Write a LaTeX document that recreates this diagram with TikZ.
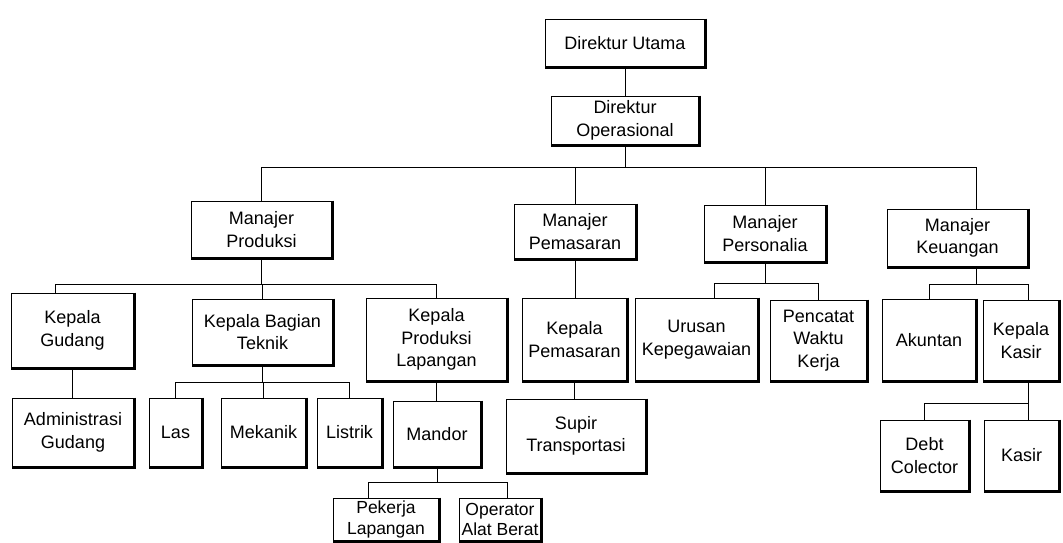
\documentclass[tikz,border=0pt]{standalone}
\usepackage{fontspec}
\setmainfont{Liberation Sans}
% name, centre x, centre y, width, height, text
\newcommand\orgnode[7][]{\node[box,minimum width=#5pt,minimum height=#6pt,#1] (#2) at (#3,#4) {#7};}
\begin{document}
\begin{tikzpicture}[x=1pt,y=-1pt,
  box/.style={draw, line width=0.9pt, inner sep=0pt, align=center,
    font=\fontsize{18}{22.5}\selectfont},
  tight/.style={font=\fontsize{17.5}{20.5}\selectfont},
  link/.style={line width=0.8pt},
  edge/.style={line width=2.4pt}]
\fill[white] (0,0) rectangle (1063,543);
\useasboundingbox (0,0) rectangle (1063,543);

% top management
\orgnode{du}{625}{43}{160}{48}{Direktur Utama}
\orgnode{do}{625}{120.5}{148}{49}{Direktur\\Operasional}

% managers
\orgnode{mp}{261.5}{229.5}{141}{57}{Manajer\\Produksi}
\orgnode{mpem}{575}{231.5}{122}{55}{Manajer\\Pemasaran}
\orgnode{mper}{765}{233.5}{122}{57}{Manajer\\Personalia}
\orgnode{mk}{957.5}{238}{141}{58}{Manajer\\Keuangan}

% heads of section
\orgnode{kg}{72.5}{330.5}{123}{75}{Kepala\\Gudang}
\orgnode{kbt}{262.5}{332}{141}{66}{Kepala Bagian\\Teknik}
\orgnode{kpl}{436.5}{339.5}{141}{83}{Kepala\\Produksi\\Lapangan}
\orgnode{kpem}{574.5}{339.5}{105}{83}{Kepala\\Pemasaran}
\orgnode{uk}{696.5}{339.5}{123}{83}{Urusan\\Kepegawaian}
\orgnode{pwk}{818.5}{340.5}{97}{81}{Pencatat\\Waktu\\Kerja}
\orgnode{ak}{929}{340}{94}{82}{Akuntan}
\orgnode{kk}{1021}{340.5}{76}{81}{Kepala\\Kasir}

% staff
\orgnode{ag}{73}{432.5}{122}{69}{Administrasi\\Gudang}
\orgnode{las}{175.5}{432.5}{53}{69}{Las}
\orgnode{mek}{263.5}{432.5}{85}{69}{Mekanik}
\orgnode{lis}{349.5}{432.5}{65}{69}{Listrik}
\orgnode{man}{437}{434}{88}{66}{Mandor}
\orgnode{sup}{576}{436}{140}{74}{Supir\\Transportasi}
\orgnode{dc}{924.5}{455.5}{89}{71}{Debt\\Colector}
\orgnode{kas}{1021.5}{455.5}{75}{71}{Kasir}
\orgnode[tight]{pl}{386}{519.5}{106}{43}{Pekerja\\Lapangan}
\orgnode[tight]{oab}{500}{519.5}{82}{43}{Operator\\Alat Berat}

% heavy right and bottom borders
\foreach \n in {du,do,mp,mpem,mper,mk,kg,kbt,kpl,kpem,uk,pwk,ak,kk,
                ag,las,mek,lis,man,sup,dc,kas,pl,oab}
  \draw[edge] (\n.north east) -- (\n.south east) -- (\n.south west);

% connectors
\draw[link] (du.south) -- (do.north);
\coordinate (b1) at (625,167);
\draw[link] (do.south) -- (b1);
\draw[link] (b1) -| (mp.north);
\draw[link] (b1) -| (mpem.north);
\draw[link] (b1) -| (mper.north);
\draw[link] (b1) -| ([xshift=18.5pt]mk.north);

\coordinate (b2) at (261.5,284);
\draw[link] (mp.south) -- (b2);
\draw[link] (b2) -| ([xshift=-17.5pt]kg.north);
\draw[link] (b2) -| (kbt.north);
\draw[link] (b2) -| (kpl.north);

\draw[link] (kg.south) -- (kg.south |- ag.north);

\coordinate (b3) at (262.5,382);
\draw[link] (kbt.south) -- (b3);
\draw[link] (b3) -| (las.north);
\draw[link] (b3) -| (mek.north);
\draw[link] (b3) -| (lis.north);

\draw[link] (kpl.south) -- (kpl.south |- man.north);
\coordinate (b4) at (437,482);
\draw[link] (man.south) -- (b4);
\draw[link] (b4) -| ([xshift=-18pt]pl.north);
\draw[link] (b4) -| ([xshift=7pt]oab.north);

\draw[link] (mpem.south) -- (mpem.south |- kpem.north);
\draw[link] (kpem.south) -- (kpem.south |- sup.north);

\coordinate (b5) at (765,283);
\draw[link] (mper.south) -- (b5);
\draw[link] (b5) -| ([xshift=17.5pt]uk.north);
\draw[link] (b5) -| (pwk.north);

\coordinate (b6) at (976,284);
\draw[link] ([xshift=18.5pt]mk.south) -- (b6);
\draw[link] (b6) -| (ak.north);
\draw[link] (b6) -| ([xshift=7pt]kk.north);

\coordinate (b7) at (1028,403);
\draw[link] ([xshift=7pt]kk.south) -- (b7);
\draw[link] (b7) -| (dc.north);
\draw[link] (b7) -| ([xshift=6.5pt]kas.north);
\end{tikzpicture}
\end{document}
